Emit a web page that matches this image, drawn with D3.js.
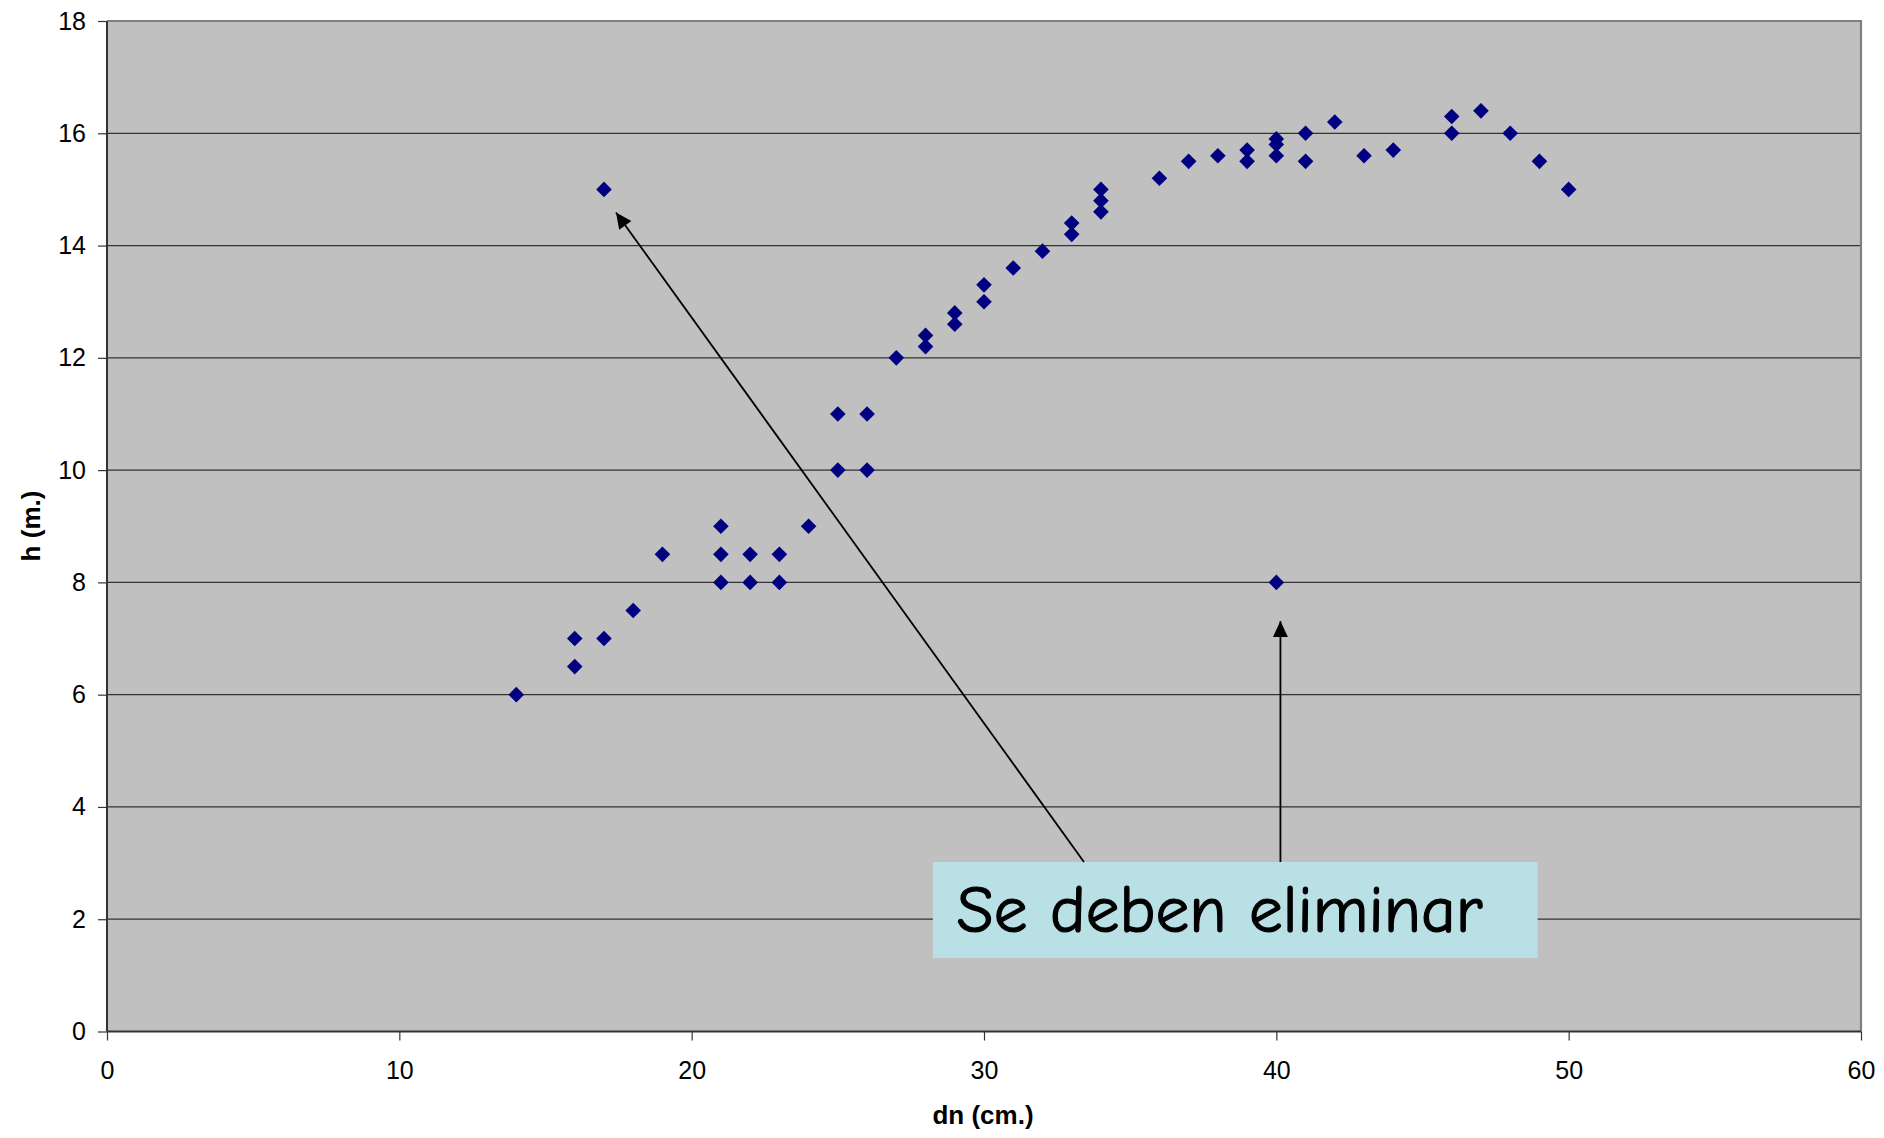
<!DOCTYPE html>
<html>
<head>
<meta charset="utf-8">
<script src="https://cdn.jsdelivr.net/npm/d3@7"></script>
<style>
  body { margin: 0; background: #ffffff; }
  svg { display: block; }
</style>
</head>
<body>
<svg id="chart" width="1884" height="1138"></svg>
<script>
// Diameter at breast height (cm) and tree height (m) for each measured tree
const dn = [14, 16, 16, 17, 17, 18, 19,
            21, 21, 21, 22, 22, 23, 23, 24,
            25, 25, 26, 26, 27,
            28, 28, 29, 29, 30, 30,
            31, 32, 33, 33,
            34, 34, 34,
            36, 37, 38,
            39, 39,
            40, 40, 40, 40,
            41, 41, 42, 43, 44,
            46, 46, 47, 48, 49, 50];
const h = [6, 6.5, 7, 7, 15, 7.5, 8.5,
           8, 8.5, 9, 8, 8.5, 8, 8.5, 9,
           10, 11, 10, 11, 12,
           12.2, 12.4, 12.6, 12.8, 13, 13.3,
           13.6, 13.9, 14.2, 14.4,
           14.6, 14.8, 15,
           15.2, 15.5, 15.6,
           15.5, 15.7,
           15.6, 15.8, 15.9, 8,
           15.5, 16, 16.2, 15.6, 15.7,
           16, 16.3, 16.4, 16, 15.5, 15];

const xTicks = [0, 10, 20, 30, 40, 50, 60];
const yTicks = [0, 2, 4, 6, 8, 10, 12, 14, 16, 18];

const xTitle = "dn (cm.)";
const yTitle = "h (m.)";
const noteText = "Se deben eliminar";

// Callout (data units): box, text anchor and the two arrows to the outliers
const noteBox = { x0: 28.25, x1: 48.94, y0: 1.31, y1: 3.02 };
const noteAnchor = { x: 29.06, y: 1.78 };
const noteArrows = [
  { from: [33.42, 3.02], to: [17.41, 14.59] },
  { from: [40.14, 3.02], to: [40.14, 7.31] }
];

const plot = { left: 107, right: 1861, top: 21, bottom: 1031.5 };

const svg = d3.select("#chart");
const font = "'Liberation Sans', Arial, Helvetica, sans-serif";

const x = d3.scaleLinear().domain([0, 60]).range([plot.left, plot.right]);
const y = d3.scaleLinear().domain([0, 18]).range([plot.bottom, plot.top]);

// Plot background
svg.append("rect")
  .attr("x", plot.left).attr("y", plot.top)
  .attr("width", plot.right - plot.left)
  .attr("height", plot.bottom - plot.top)
  .attr("fill", "#c0c0c0");

// Horizontal gridlines
svg.append("g")
  .selectAll("line")
  .data(yTicks.filter(t => t > 0 && t < 18))
  .join("line")
  .attr("x1", plot.left).attr("x2", plot.right)
  .attr("y1", d => y(d)).attr("y2", d => y(d))
  .attr("stroke", "#333333")
  .attr("stroke-width", 1.3);

// Top and right frame
svg.append("path")
  .attr("d", `M${plot.left},${plot.top}H${plot.right}V${plot.bottom}`)
  .attr("fill", "none")
  .attr("stroke", "#808080")
  .attr("stroke-width", 2.2);

// Axes
const yAxis = svg.append("g")
  .attr("transform", `translate(${plot.left},0)`)
  .call(d3.axisLeft(y).tickValues(yTicks).tickSize(9).tickPadding(12).tickFormat(d3.format("d")));
const xAxis = svg.append("g")
  .attr("transform", `translate(0,${plot.bottom})`)
  .call(d3.axisBottom(x).tickValues(xTicks).tickSize(9).tickPadding(21).tickFormat(d3.format("d")));

[yAxis, xAxis].forEach(g => {
  g.select(".domain").attr("stroke", "#333333").attr("stroke-width", 2);
  g.selectAll(".tick line").attr("stroke", "#333333").attr("stroke-width", 1.2);
  g.selectAll(".tick text")
    .attr("fill", "#000")
    .style("font-family", font)
    .style("font-size", "25px");
});
// keep domain paths without the outer end caps
yAxis.select(".domain").attr("d", `M0,${plot.top}V${plot.bottom}`);
xAxis.select(".domain").attr("d", `M${plot.left},0H${plot.right}`);

// Axis titles
svg.append("text")
  .attr("x", 983).attr("y", 1124)
  .attr("text-anchor", "middle")
  .style("font-family", font).style("font-size", "26px").style("font-weight", "bold")
  .text(xTitle);
svg.append("text")
  .attr("transform", "translate(40,526) rotate(-90)")
  .attr("text-anchor", "middle")
  .style("font-family", font).style("font-size", "26px").style("font-weight", "bold")
  .text(yTitle);

// Data points: navy diamonds
const diamond = d3.symbol().type(d3.symbolSquare).size(122);
svg.append("g")
  .selectAll("path")
  .data(d3.range(dn.length))
  .join("path")
  .attr("transform", i => `translate(${x(dn[i])},${y(h[i])}) rotate(45)`)
  .attr("d", diamond)
  .attr("fill", "#000080");

// Callout box and text
svg.append("rect")
  .attr("x", x(noteBox.x0)).attr("y", y(noteBox.y1))
  .attr("width", x(noteBox.x1) - x(noteBox.x0))
  .attr("height", y(noteBox.y0) - y(noteBox.y1))
  .attr("fill", "#b9e0e4");

const note = svg.append("text")
  .attr("x", x(noteAnchor.x)).attr("y", y(noteAnchor.y))
  .style("font-family", "'Comic Sans MS', 'Comic Neue', 'DejaVu Sans', sans-serif")
  .style("font-size", "60px")
  .attr("fill", "#000")
  .attr("stroke", "#000")
  .attr("stroke-width", 1.2)
  .text(noteText);
const targetWidth = 526;
const w0 = note.node().getComputedTextLength();
if (w0 > 0) note.style("font-size", (60 * targetWidth / w0).toFixed(2) + "px");

// Arrows pointing at the outliers
const defs = svg.append("defs");
defs.append("marker")
  .attr("id", "head")
  .attr("markerUnits", "userSpaceOnUse")
  .attr("viewBox", "-17 -8 18 16")
  .attr("refX", 0).attr("refY", 0)
  .attr("markerWidth", 18).attr("markerHeight", 16)
  .attr("orient", "auto")
  .append("path")
  .attr("d", "M0,0L-16,-7.5L-16,7.5Z")
  .attr("fill", "#000");

svg.append("g")
  .selectAll("line")
  .data(noteArrows)
  .join("line")
  .attr("x1", d => x(d.from[0])).attr("y1", d => y(d.from[1]))
  .attr("x2", d => x(d.to[0])).attr("y2", d => y(d.to[1]))
  .attr("stroke", "#000")
  .attr("stroke-width", 1.8)
  .attr("marker-end", "url(#head)");
</script>
</body>
</html>
